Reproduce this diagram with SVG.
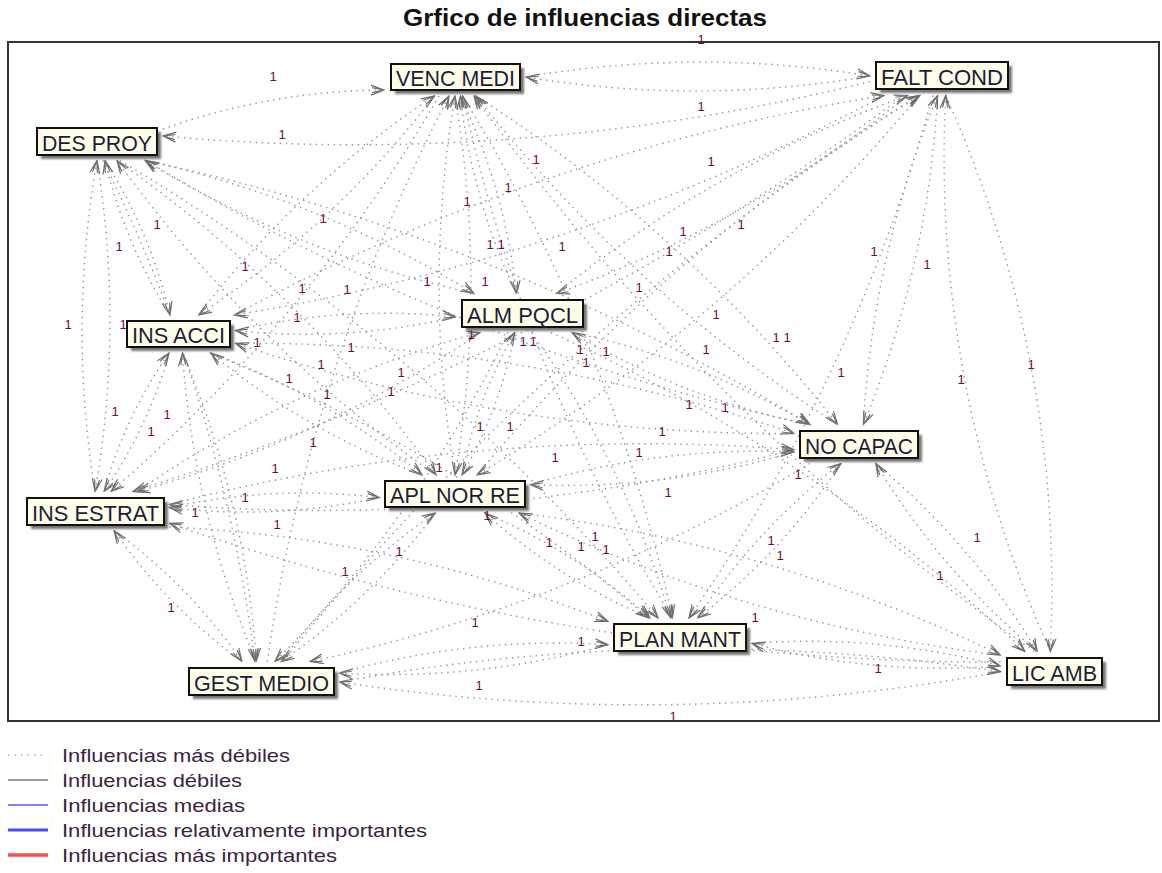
<svg xmlns="http://www.w3.org/2000/svg" width="1162" height="873" viewBox="0 0 1162 873">
  <style>
    .title { font-family: "Liberation Sans", Arial, sans-serif; font-weight: bold; font-size: 24px; fill: #111; text-anchor: middle; }
    .frame { fill: none; stroke: #333; stroke-width: 2; }
    .e { fill: none; stroke: #929292; stroke-width: 1.4; stroke-dasharray: 1.4 4.6; marker-end: url(#ah); }
    .lbl { font-family: "Liberation Sans", Arial, sans-serif; font-size: 13px; fill: #6a1030; text-anchor: middle; }
    .sh { fill: #767676; filter: url(#soft); }
    .bx { fill: #fdfde8; stroke: #111; stroke-width: 2; }
    .nt { font-family: "Liberation Sans", Arial, sans-serif; font-size: 22px; fill: #1c1c3c; text-anchor: middle; }
    .lg { font-family: "Liberation Sans", Arial, sans-serif; font-size: 19px; fill: #3b2440; }
  </style>
  <defs>
    <marker id="ah" markerUnits="userSpaceOnUse" viewBox="-15 -7 16 14" refX="0" refY="0" markerWidth="16" markerHeight="14" orient="auto">
      <path d="M-13,-5 L0,0 L-13,5 M-12,-2.5 L0,0 L-12,2.5" fill="none" stroke="#6e6e6e" stroke-width="1.2" stroke-dasharray="none"/>
    </marker>
    <filter id="soft" x="-10%" y="-30%" width="120%" height="160%">
      <feGaussianBlur stdDeviation="1.1"/>
    </filter>
  </defs>

  <rect width="1162" height="873" fill="#fff"/>
  <text class="title" x="585" y="26" textLength="364" lengthAdjust="spacingAndGlyphs">Grfico de influencias directas</text>
  <rect class="frame" x="8" y="42" width="1151" height="679"/>

  <!-- connectors: circular arcs between label boxes, arrowhead at the target -->
  <g id="connectors">
    <path class="e" d="M526 77 A1032 1032 0 0 1 870 76"/>
    <path class="e" d="M870 76 A1032 1032 0 0 1 526 77"/>
    <path class="e" d="M163 129 A672 672 0 0 1 384 90"/>
    <path class="e" d="M870 81.5 A2123 2123 0 0 1 163 136"/>
    <path class="e" d="M97 160.5 A993 993 0 0 1 95 491.5"/>
    <path class="e" d="M95 491.5 A993 993 0 0 1 97 160.5"/>
    <path class="e" d="M105 160.5 A503 503 0 0 1 170 315"/>
    <path class="e" d="M170 315 A503 503 0 0 1 105 160.5"/>
    <path class="e" d="M145 160.5 A1065 1065 0 0 1 474 293.5"/>
    <path class="e" d="M474 293.5 A1065 1065 0 0 1 145 160.5"/>
    <path class="e" d="M117 160.5 A1344 1344 0 0 1 436 475"/>
    <path class="e" d="M436 475 A1344 1344 0 0 1 117 160.5"/>
    <path class="e" d="M146 160.5 A2144 2144 0 0 1 810 424.5"/>
    <path class="e" d="M810 424.5 A2144 2144 0 0 1 146 160.5"/>
    <path class="e" d="M120 160.5 A2118 2118 0 0 1 658 618"/>
    <path class="e" d="M103 160.5 A1570 1570 0 0 1 255 661.5"/>

    <path class="e" d="M434.5 96 A966 966 0 0 1 198.5 315"/>
    <path class="e" d="M198.5 315 A966 966 0 0 1 434.5 96"/>
    <path class="e" d="M460.4 96 A615 615 0 0 1 516.5 293.5"/>
    <path class="e" d="M516.5 293.5 A615 615 0 0 1 460.4 96"/>
    <path class="e" d="M455 96 A1137 1137 0 0 1 455 475"/>
    <path class="e" d="M455 475 A1137 1137 0 0 1 455 96"/>
    <path class="e" d="M476 96 A1466 1466 0 0 1 837.6 424.5"/>
    <path class="e" d="M837.6 424.5 A1466 1466 0 0 1 476 96"/>
    <path class="e" d="M462.6 96 A1688 1688 0 0 1 672.4 618"/>
    <path class="e" d="M672.4 618 A1688 1688 0 0 1 462.6 96"/>
    <path class="e" d="M439 96 A1541 1541 0 0 1 111 491.5"/>
    <path class="e" d="M267.3 661.5 A1782 1782 0 0 1 449 96"/>
    <path class="e" d="M1034.4 651.5 A2366 2366 0 0 1 474 96"/>

    <path class="e" d="M907.5 95.5 A1209 1209 0 0 1 556.5 293.5"/>
    <path class="e" d="M556.5 293.5 A1209 1209 0 0 1 907.5 95.5"/>
    <path class="e" d="M884 95.5 A2058 2058 0 0 1 234.2 315"/>
    <path class="e" d="M234.2 315 A2058 2058 0 0 1 884 95.5"/>
    <path class="e" d="M919 95.5 A1748 1748 0 0 1 477 475"/>
    <path class="e" d="M477 475 A1748 1748 0 0 1 919 95.5"/>
    <path class="e" d="M937.6 95.5 A1011 1011 0 0 1 863.4 424.5"/>
    <path class="e" d="M863.4 424.5 A1011 1011 0 0 1 937.6 95.5"/>
    <path class="e" d="M945.7 95.5 A1200 1200 0 0 1 1050.3 651.5"/>
    <path class="e" d="M1050.3 651.5 A1200 1200 0 0 1 945.7 95.5"/>
    <path class="e" d="M904 95.5 A2600 2600 0 0 1 133 491.5"/>
    <path class="e" d="M932.9 95.5 A1730 1730 0 0 1 688.9 618"/>
    <path class="e" d="M283 661.5 A2556 2556 0 0 1 920 95.5"/>

    <path class="e" d="M235.5 330.5 A662 662 0 0 1 455.5 317"/>
    <path class="e" d="M455.5 317 A662 662 0 0 1 235.5 330.5"/>
    <path class="e" d="M211 353 A731 731 0 0 1 422 475"/>
    <path class="e" d="M422 475 A731 731 0 0 1 211 353"/>
    <path class="e" d="M235.5 343.3 A1697 1697 0 0 1 794 433.5"/>
    <path class="e" d="M794 433.5 A1697 1697 0 0 1 235.5 343.3"/>
    <path class="e" d="M209.5 353 A1538 1538 0 0 1 648.5 618"/>
    <path class="e" d="M169 353 A459 459 0 0 1 104 491.5"/>
    <path class="e" d="M104 491.5 A459 459 0 0 1 169 353"/>
    <path class="e" d="M182.5 353 A951 951 0 0 1 256.3 661.5"/>
    <path class="e" d="M256.3 661.5 A951 951 0 0 1 182.5 353"/>

    <path class="e" d="M514.8 332.5 A456 456 0 0 1 462 475"/>
    <path class="e" d="M462 475 A456 456 0 0 1 514.8 332.5"/>
    <path class="e" d="M572 332.5 A763 763 0 0 1 809 424.5"/>
    <path class="e" d="M809 424.5 A763 763 0 0 1 572 332.5"/>
    <path class="e" d="M531.5 332.5 A953 953 0 0 1 670.7 618"/>
    <path class="e" d="M551 332.5 A1714 1714 0 0 1 1025 651.5"/>
    <path class="e" d="M480 332.5 A1134 1134 0 0 1 137 491.5"/>
    <path class="e" d="M137 491.5 A1134 1134 0 0 1 480 332.5"/>
    <path class="e" d="M508 332.5 A1209 1209 0 0 1 275 661.5"/>

    <path class="e" d="M794 452 A797 797 0 0 1 530.5 484.7"/>
    <path class="e" d="M530.5 484.7 A797 797 0 0 1 794 452"/>
    <path class="e" d="M794 449.7 A1881 1881 0 0 1 169.5 504.5"/>
    <path class="e" d="M169.5 504.5 A1881 1881 0 0 1 794 449.7"/>
    <path class="e" d="M841 463.5 A633 633 0 0 1 697.5 618"/>
    <path class="e" d="M697.5 618 A633 633 0 0 1 841 463.5"/>
    <path class="e" d="M875.7 463.5 A743 743 0 0 1 1037.2 651.5"/>
    <path class="e" d="M1037.2 651.5 A743 743 0 0 1 875.7 463.5"/>
    <path class="e" d="M810 463.5 A1613 1613 0 0 1 310 661.5"/>

    <path class="e" d="M169.5 507.5 A630 630 0 0 1 379.5 497.6"/>
    <path class="e" d="M379.5 497.6 A630 630 0 0 1 169.5 507.5"/>
    <path class="e" d="M114 530.5 A550 550 0 0 1 242 661.5"/>
    <path class="e" d="M242 661.5 A550 550 0 0 1 114 530.5"/>
    <path class="e" d="M169.5 527 A1346 1346 0 0 1 608 621.5"/>
    <path class="e" d="M1000.5 662 A2527 2527 0 0 1 169.5 523.4"/>

    <path class="e" d="M485 513 A587 587 0 0 1 650 618"/>
    <path class="e" d="M650 618 A587 587 0 0 1 485 513"/>
    <path class="e" d="M435.3 513 A642 642 0 0 1 281 661.5"/>
    <path class="e" d="M281 661.5 A642 642 0 0 1 435.3 513"/>
    <path class="e" d="M519 513 A1506 1506 0 0 1 1000.5 655.2"/>
    <path class="e" d="M1000.5 655.2 A1506 1506 0 0 1 519 513"/>
    <path class="e" d="M752 643.5 A749 749 0 0 1 1000.5 666"/>
    <path class="e" d="M1000.5 666 A749 749 0 0 1 752 643.5"/>
    <path class="e" d="M608 644.6 A810 810 0 0 1 339.5 673"/>
    <path class="e" d="M339.5 673 A810 810 0 0 1 608 644.6"/>
    <path class="e" d="M1000.5 671.7 A1983 1983 0 0 1 339.5 682"/>
    <path class="e" d="M339.5 682 A1983 1983 0 0 1 1000.5 671.7"/>
  </g>

  <!-- influence weights on the connectors -->
  <g id="weights" class="lbl">
    <text x="701" y="44">1</text><text x="273" y="81">1</text><text x="282" y="139">1</text>
    <text x="701" y="111">1</text><text x="536" y="164">1</text><text x="711" y="166">1</text>
    <text x="508" y="192">1</text><text x="467" y="206">1</text><text x="157" y="229">1</text>
    <text x="323" y="223">1</text><text x="119" y="251">1</text><text x="245" y="271">1</text>
    <text x="683" y="236">1</text><text x="741" y="229">1</text><text x="490" y="249">1</text>
    <text x="501" y="249">1</text><text x="562" y="251">1</text><text x="669" y="256">1</text>
    <text x="874" y="256">1</text><text x="927" y="269">1</text><text x="302" y="293">1</text>
    <text x="347" y="294">1</text><text x="427" y="286">1</text><text x="485" y="286">1</text>
    <text x="639" y="292">1</text><text x="297" y="322">1</text><text x="68" y="329">1</text>
    <text x="123" y="329">1</text><text x="716" y="319">1</text><text x="257" y="347">1</text>
    <text x="351" y="352">1</text><text x="471" y="339">1</text><text x="523" y="346">1</text>
    <text x="533" y="346">1</text><text x="580" y="354">1</text><text x="606" y="356">1</text>
    <text x="586" y="367">1</text><text x="706" y="354">1</text><text x="776" y="342">1</text>
    <text x="787" y="342">1</text><text x="321" y="369">1</text><text x="401" y="377">1</text>
    <text x="841" y="377">1</text><text x="1031" y="369">1</text><text x="961" y="384">1</text>
    <text x="289" y="383">1</text><text x="327" y="399">1</text><text x="391" y="396">1</text>
    <text x="689" y="409">1</text><text x="725" y="412">1</text><text x="115" y="416">1</text>
    <text x="167" y="419">1</text><text x="151" y="436">1</text><text x="313" y="447">1</text>
    <text x="480" y="431">1</text><text x="510" y="431">1</text><text x="662" y="436">1</text>
    <text x="639" y="457">1</text><text x="555" y="462">1</text><text x="275" y="473">1</text>
    <text x="439" y="472">1</text><text x="798" y="479">1</text><text x="668" y="497">1</text>
    <text x="245" y="502">1</text><text x="195" y="517">1</text><text x="277" y="529">1</text>
    <text x="487" y="520">1</text><text x="399" y="556">1</text><text x="549" y="547">1</text>
    <text x="581" y="551">1</text><text x="595" y="541">1</text><text x="606" y="554">1</text>
    <text x="771" y="545">1</text><text x="780" y="560">1</text><text x="345" y="576">1</text>
    <text x="977" y="542">1</text><text x="940" y="580">1</text><text x="171" y="612">1</text>
    <text x="475" y="627">1</text><text x="581" y="646">1</text><text x="755" y="622">1</text>
    <text x="878" y="673">1</text><text x="479" y="690">1</text><text x="673" y="721">1</text>
  </g>

  <!-- variable nodes -->
  <g id="venc-medi">
    <rect class="sh" x="395" y="68" width="129" height="26"/>
    <rect class="bx" x="391" y="64" width="129" height="26"/>
    <text class="nt" x="455.5" y="86" textLength="119" lengthAdjust="spacingAndGlyphs">VENC MEDI</text>
  </g>
  <g id="falt-cond">
    <rect class="sh" x="880" y="66" width="132" height="27"/>
    <rect class="bx" x="876" y="62" width="132" height="27"/>
    <text class="nt" x="942" y="84.5" textLength="122" lengthAdjust="spacingAndGlyphs">FALT COND</text>
  </g>
  <g id="des-proy">
    <rect class="sh" x="41" y="132" width="120" height="27"/>
    <rect class="bx" x="37" y="128" width="120" height="27"/>
    <text class="nt" x="97" y="150.5" textLength="110" lengthAdjust="spacingAndGlyphs">DES PROY</text>
  </g>
  <g id="ins-acci">
    <rect class="sh" x="131" y="325" width="103" height="26"/>
    <rect class="bx" x="127" y="321" width="103" height="26"/>
    <text class="nt" x="178.5" y="343" textLength="93" lengthAdjust="spacingAndGlyphs">INS ACCI</text>
  </g>
  <g id="alm-pqcl">
    <rect class="sh" x="466" y="304" width="121" height="27"/>
    <rect class="bx" x="462" y="300" width="121" height="27"/>
    <text class="nt" x="522.5" y="322.5" textLength="111" lengthAdjust="spacingAndGlyphs">ALM PQCL</text>
  </g>
  <g id="no-capac">
    <rect class="sh" x="804" y="435" width="118" height="27"/>
    <rect class="bx" x="800" y="431" width="118" height="27"/>
    <text class="nt" x="859" y="453.5" textLength="108" lengthAdjust="spacingAndGlyphs">NO CAPAC</text>
  </g>
  <g id="ins-estrat">
    <rect class="sh" x="31" y="502" width="137" height="27"/>
    <rect class="bx" x="27" y="498" width="137" height="27"/>
    <text class="nt" x="95.5" y="520.5" textLength="127" lengthAdjust="spacingAndGlyphs">INS ESTRAT</text>
  </g>
  <g id="apl-nor-re">
    <rect class="sh" x="389" y="485" width="140" height="26"/>
    <rect class="bx" x="385" y="481" width="140" height="26"/>
    <text class="nt" x="455" y="503" textLength="130" lengthAdjust="spacingAndGlyphs">APL NOR RE</text>
  </g>
  <g id="plan-mant">
    <rect class="sh" x="618" y="628" width="132" height="27"/>
    <rect class="bx" x="614" y="624" width="132" height="27"/>
    <text class="nt" x="680" y="646.5" textLength="122" lengthAdjust="spacingAndGlyphs">PLAN MANT</text>
  </g>
  <g id="lic-amb">
    <rect class="sh" x="1011" y="662" width="95" height="27"/>
    <rect class="bx" x="1007" y="658" width="95" height="27"/>
    <text class="nt" x="1054.5" y="680.5" textLength="85" lengthAdjust="spacingAndGlyphs">LIC AMB</text>
  </g>
  <g id="gest-medio">
    <rect class="sh" x="193" y="672" width="145" height="27"/>
    <rect class="bx" x="189" y="668" width="145" height="27"/>
    <text class="nt" x="261.5" y="690.5" textLength="135" lengthAdjust="spacingAndGlyphs">GEST MEDIO</text>
  </g>

  <!-- legend -->
  <g id="legend">
    <line x1="8" y1="755" x2="42" y2="755" stroke="#b0b0b0" stroke-width="1.3" stroke-dasharray="1.5 5"/>
    <line x1="8" y1="780" x2="48" y2="780" stroke="#777" stroke-width="1.5"/>
    <line x1="8" y1="805" x2="48" y2="805" stroke="#5a5aff" stroke-width="1.5"/>
    <line x1="8" y1="830" x2="48" y2="830" stroke="#4a4aff" stroke-width="3"/>
    <line x1="8" y1="855" x2="48" y2="855" stroke="#ff4d4d" stroke-width="3.5"/>
    <text class="lg" x="62" y="762" textLength="228" lengthAdjust="spacingAndGlyphs">Influencias más débiles</text>
    <text class="lg" x="62" y="787" textLength="180" lengthAdjust="spacingAndGlyphs">Influencias débiles</text>
    <text class="lg" x="62" y="812" textLength="183" lengthAdjust="spacingAndGlyphs">Influencias medias</text>
    <text class="lg" x="62" y="837" textLength="365" lengthAdjust="spacingAndGlyphs">Influencias relativamente importantes</text>
    <text class="lg" x="62" y="862" textLength="275" lengthAdjust="spacingAndGlyphs">Influencias más importantes</text>
  </g>
</svg>
